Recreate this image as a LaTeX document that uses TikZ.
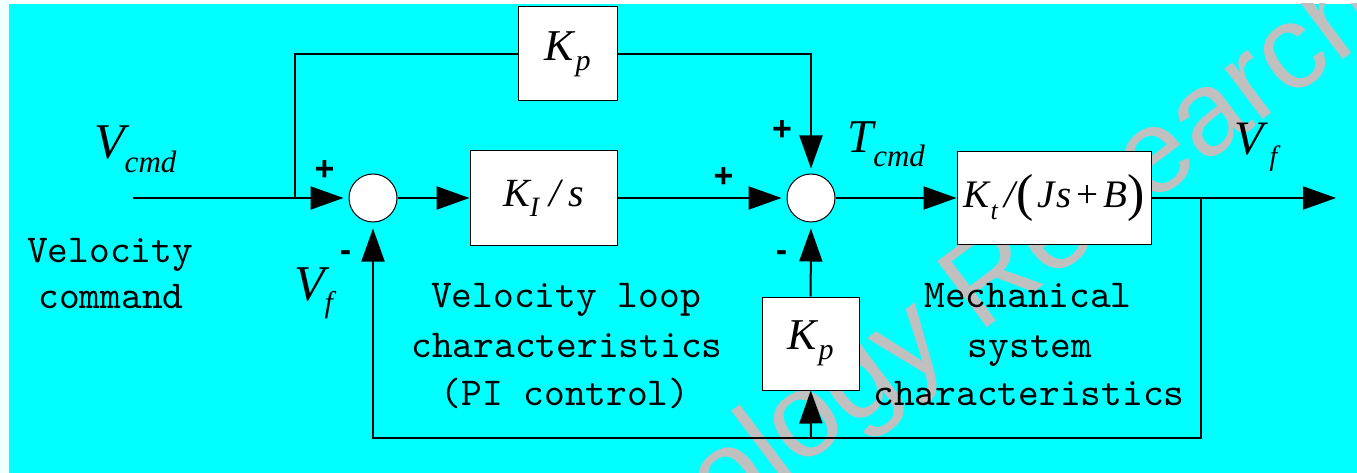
\documentclass[tikz,border=0pt]{standalone}
\usepackage{fontspec}
\setmainfont{Liberation Serif}
\newfontfamily\wmfont{Liberation Sans}
\newfontfamily\signfont{Liberation Sans}
\newfontfamily\mymono{lmmono10-regular.otf}
\usetikzlibrary{arrows.meta}
\definecolor{bgcyan}{HTML}{00FFFF}
\definecolor{wmgray}{HTML}{C0C0C0}
\definecolor{edgeazure}{HTML}{F0FFFF}
\newcommand\myit[2]{{\fontsize{#1}{#1}\selectfont\itshape #2}}
\newcommand\myup[2]{{\fontsize{#1}{#1}\selectfont #2}}
\newcommand\mylow[3]{\raisebox{-#1pt}{\myit{#2}{#3}}}
\begin{document}
\begin{tikzpicture}[x=1pt,y=-1pt,
  sig/.style={line width=2pt},
  arr/.style={line width=2pt,-{Triangle[length=33pt,width=23pt]}},
  blk/.style={draw=black,line width=1pt,fill=white,inner sep=0pt},
  sumc/.style={circle,draw=black,line width=1pt,fill=white,minimum size=48pt,inner sep=0pt},
  mono/.style={font=\mymono\fontsize{39.5}{46}\selectfont,inner sep=0pt,anchor=base},
  lbl/.style={inner sep=0pt,anchor=base west},
  sgn/.style={font=\signfont\bfseries\fontsize{34}{34}\selectfont,inner sep=0pt,anchor=base}
]
\useasboundingbox (0,0) rectangle (1357,473);
\fill[white] (0,0) rectangle (1357,473);
\fill[edgeazure] (0,0) rectangle (9,473);
\fill[bgcyan] (9,4) rectangle (1357,473);

% watermark (behind the diagram)
\begin{scope}
\clip (9,4) rectangle (1357,473);
\node[font=\wmfont\fontsize{120}{120}\selectfont,text=wmgray,rotate=37,anchor=base west,inner sep=0pt] (wm) at (468,719) {Technology Research};
\end{scope}

% blocks
\node[sumc] (s1) at (373,198) {};
\node[sumc] (s2) at (811,198) {};
\node[blk,minimum width=147pt,minimum height=94pt] (ki) at (543.5,198)
  {\myit{40}{K}\mylow{10}{28}{I}\hspace{10pt}\myit{40}{/}\hspace{8pt}\myit{40}{s}};
\node[blk,minimum width=99pt,minimum height=94pt] (kp1) at (567.5,54)
  {\myit{44}{K}\hspace{2pt}\mylow{10}{30}{p}};
\node[blk,minimum width=194pt,minimum height=93pt] (kt) at (1054,198)
  {\myit{39}{K}\hspace{1pt}\mylow{12}{26}{t}\hspace{7pt}\myit{39}{/}\hspace{1pt}\raisebox{-3pt}{\myup{52}{(}}\hspace{4pt}\myit{39}{J}\hspace{1pt}\myit{39}{s}\hspace{5pt}\myup{39}{+}\hspace{5pt}\myit{39}{B}\raisebox{-3pt}{\myup{52}{)}}};
\node[blk,minimum width=97pt,minimum height=93pt] (kp2) at (810.5,343.5)
  {\myit{44}{K}\hspace{2pt}\mylow{10}{30}{p}};

% coordinates
\coordinate (in) at (133,198);
\coordinate (b1) at (295,198);
\coordinate (b2) at (1201,198);
\coordinate (out) at (1336,198);
\coordinate (c1) at (373,438);
\coordinate (c2) at (811,438);

% connectors
\draw[arr,shorten >=5pt] (in) -- (s1);
\draw[sig] (b1) |- (kp1.west);
\draw[arr,shorten >=5pt] (kp1.east) -| (s2);
\draw[arr] (s1) -- (ki);
\draw[arr,shorten >=5pt] (ki) -- (s2);
\draw[arr] (s2) -- (kt);
\draw[arr] (kt) -- (out);
\draw[arr,shorten >=6pt] (b2) |- (c1) -- (s1);
\draw[arr] (c2) -- (kp2);
\draw[arr,shorten >=6pt] (kp2) -- (s2);

% signal labels
\node[lbl] (vcmd) at (94,159) {\myit{50}{V}\mylow{14}{31}{cmd}};
\node[lbl] (tcmd) at (847,153) {\myit{47}{T}\mylow{14}{31}{cmd}};
\node[lbl] (vf1) at (294,300) {\myit{50}{V}\mylow{12}{30}{f}};
\node[lbl] (vf2) at (1234,155) {\myit{48}{V}\hspace{6pt}\mylow{11}{28}{f}};

% signs
\node[sgn] (p1) at (324.5,181) {+};
\node[sgn] (p2) at (723.5,188) {+};
\node[sgn] (p3) at (782,141) {+};
\node[sgn] (m1) at (345.5,261) {-};
\node[sgn] (m2) at (781.5,261) {-};

% descriptions
\node[mono] (t1) at (110,262) {Velocity};
\node[mono] (t2) at (111,308) {command};
\node[mono] (t3) at (566,307) {Velocity loop};
\node[mono] (t4) at (567,357) {characteristics};
\node[mono] (t5) at (565,405) {(PI control)};
\node[mono] (t6) at (1028,307) {Mechanical};
\node[mono] (t7) at (1030,357) {system};
\node[mono] (t8) at (1029,405) {characteristics};
\end{tikzpicture}
\end{document}
